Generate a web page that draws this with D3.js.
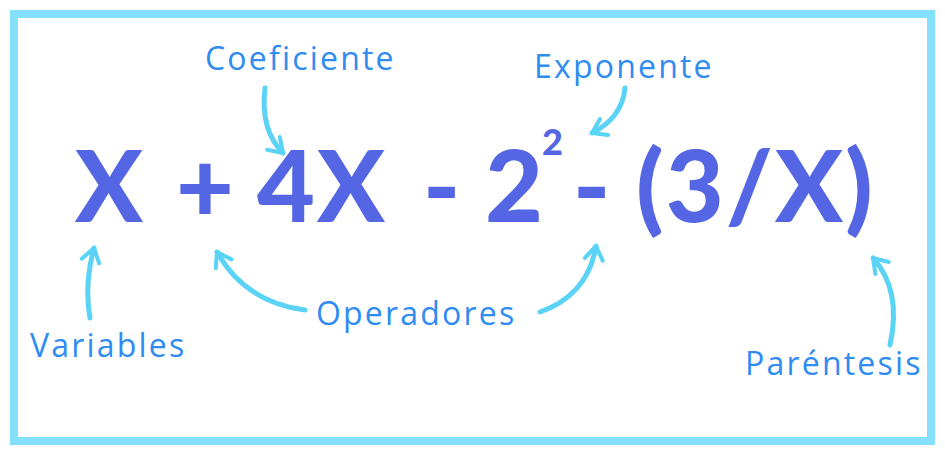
<!DOCTYPE html><html><head><meta charset="utf-8">
<script src="https://cdn.jsdelivr.net/npm/d3@7"></script>
<style>body{margin:0;background:#fff}</style></head><body>
<script>
const pieces=["X","+","4X","-","2","-","(3/X)"];
const pieceX=[75,176,257,423,485,573,636];
const superText="2";
const labels=["Coeficiente","Exponente","Variables","Operadores","Paréntesis"];
const labelPos=[[205,70],[534,78],[30,357],[316,325],[745,375]];
const arrows=[
 [[265,88],[260,130],[283,153]],
 [[625,88],[622,118],[592,133]],
 [[90,318],[84,285],[94,248]],
 [[305,310],[245,302],[217,252]],
 [[540,312],[588,295],[596,246]],
 [[890,345],[902,290],[873,258]]
];
const svg=d3.select("body").append("svg").attr("width",945).attr("height",457);
svg.append("rect").attr("x",14).attr("y",14).attr("width",917).attr("height",427)
 .attr("fill","#fff").attr("stroke","#84e0fc").attr("stroke-width",8);
const defs=svg.append("defs");
defs.append("marker").attr("id","ah").attr("viewBox","0 0 10 10").attr("refX",7).attr("refY",5)
 .attr("markerWidth",4.5).attr("markerHeight",4.5).attr("orient","auto")
 .append("path").attr("d","M1,1 L7,5 L1,9").attr("fill","none").attr("stroke","#5bd3f6")
 .attr("stroke-width",1.8).attr("stroke-linecap","round").attr("stroke-linejoin","round");
svg.selectAll("text.p").data(pieces).join("text").attr("class","p")
 .attr("x",(d,i)=>pieceX[i]).attr("y",222).text(d=>d)
 .attr("font-family","Lato, 'Open Sans', sans-serif").attr("font-weight",900)
 .attr("font-size",100).attr("letter-spacing",2).attr("fill","#5566e4");
svg.append("text").attr("x",542).attr("y",155).text(superText)
 .attr("font-family","Lato, sans-serif").attr("font-weight",900).attr("font-size",36).attr("fill","#5566e4");
svg.selectAll("text.l").data(labels).join("text").attr("class","l")
 .attr("x",(d,i)=>labelPos[i][0]).attr("y",(d,i)=>labelPos[i][1]).text(d=>d)
 .attr("font-family","'Open Sans', sans-serif").attr("font-size",32).attr("letter-spacing",2.2).attr("fill","#2f8cf0");
svg.selectAll("path.a").data(arrows).join("path").attr("class","a")
 .attr("d",d=>`M${d[0]}Q${d[1]} ${d[2]}`).attr("fill","none").attr("stroke","#5bd3f6")
 .attr("stroke-width",5).attr("stroke-linecap","round").attr("marker-end","url(#ah)");
</script></body></html>
